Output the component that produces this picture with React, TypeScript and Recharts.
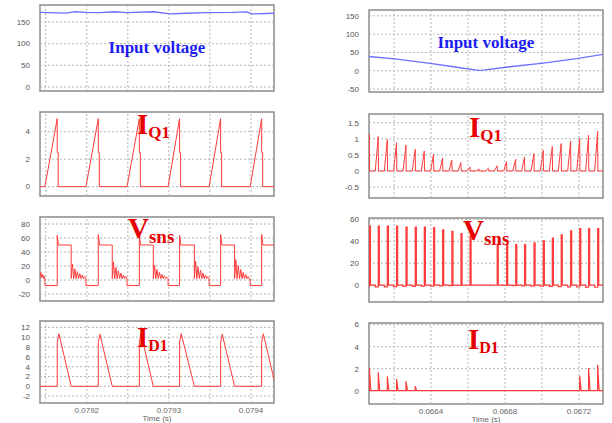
import React from "react";
import {
  LineChart,
  Line,
  XAxis,
  YAxis,
  ReferenceLine,
  ReferenceArea,
} from "recharts";

type Pt = { t: number; v: number };

// time is kept in microseconds, labels show seconds

// ---------- left column ----------
const leftTimeDomain: [number, number] = [79143, 79428];
const leftTimeGrid = [79150, 79200, 79250, 79300, 79350, 79400];
const leftTimeTicks = [79200, 79300, 79400];
const leftTimeLabels = ["0.0792", "0.0793", "0.0794"];

const leftVinTime = [79143, 79175, 79185, 79199, 79216, 79234, 79248, 79281, 79301, 79321, 79346, 79378, 79395, 79401, 79428];
const leftVin = [172, 170.5, 173.5, 172, 171.5, 173.5, 171.5, 173.5, 168.5, 170, 171.5, 172, 173, 168.5, 170];

const leftOn = [79149, 79199, 79249, 79299, 79349, 79399];
const leftOff = [79164, 79214, 79264, 79313, 79363, 79413];
const leftIq1Peak = [4.95, 4.95, 4.95, 4.95, 4.95, 4.95];
const leftId1Peak = [10.7, 10.6, 10.7, 10.7, 10.6, 10.7];
const leftId1Zero = [79181, 79231, 79281, 79331, 79380, 79430];
const leftVsnsSpike = [64, 65, 64, 64, 65, 65];
const leftVsnsFlat = [50, 50, 50, 50, 50, 50];
const leftVsnsLow = [-8, -8, -8, -8, -8, -8];
const leftVsnsRing = [
  [23, 16, 12, 9, 7, 5],
  [26, 18, 13, 10, 7, 5],
  [21, 15, 11, 8, 6, 4],
  [27, 19, 14, 10, 7, 5],
  [29, 21, 15, 11, 8, 5],
];
const leftVsnsHeadTime = [79143, 79144, 79145, 79146.5, 79147.5, 79148.5];
const leftVsnsHead = [4, 11, 3, 8, 2, 5];

// ---------- right column ----------
const rightTimeDomain: [number, number] = [66065, 67330];
const rightTimeGrid = [66200, 66400, 66600, 66800, 67000, 67200];
const rightTimeTicks = [66400, 66800, 67200];
const rightTimeLabels = ["0.0664", "0.0668", "0.0672"];

const rightVinTime = [66065, 66215, 66395, 66521, 66656, 66683, 66827, 67007, 67188, 67330];
const rightVin = [39, 32, 20, 11, 1, 2, 11, 21, 33, 45];

const rightOff = [
  66067, 66115, 66164, 66214, 66265, 66315, 66364, 66414, 66463, 66513, 66562, 66611, 66660,
  66710, 66758, 66809, 66858, 66906, 66957, 67007, 67056, 67104, 67155, 67204, 67252, 67301,
];
const rightIq1Peak = [
  1.15, 1.07, 0.98, 0.88, 0.8, 0.67, 0.62, 0.52, 0.4, 0.33, 0.26, 0.12, 0.06,
  0.08, 0.16, 0.29, 0.36, 0.43, 0.54, 0.64, 0.76, 0.85, 0.93, 1.01, 1.11, 1.23,
];
const rightVsnsPulse: (number | null)[] = [
  54, 54, 54, 54, 53, 53, 53, 52.5, 50.5, 49, 47, 45, null,
  null, 37.5, 37.5, 37, 37, 38.5, 40.5, 43, 46, 49.5, 51.5, 51.5, 51.5,
];
const rightVsnsDip = [
  -1.8, -1.7, -1.6, -1.5, -1.3, -1.2, -1.0, -0.9, -0.7, -0.5, -0.4, -0.2, 0,
  0, -0.2, -0.4, -0.6, -0.8, -1.0, -1.1, -1.3, -1.5, -1.6, -1.8, -1.9, -2.0,
];
const rightId1Peak = [
  2.06, 1.67, 1.3, 1.06, 0.85, 0.4, 0, 0, 0, 0, 0, 0, 0,
  0, 0, 0, 0, 0, 0, 0, 0, 0, 0, 1.36, 2.06, 2.36,
];

// ---------- build the polylines ----------
const zip = (ts: number[], vs: number[]): Pt[] => ts.map((t, i) => ({ t, v: vs[i] }));

const leftVinData = zip(leftVinTime, leftVin);
const rightVinData = zip(rightVinTime, rightVin);

const leftIq1Data: Pt[] = [{ t: leftTimeDomain[0], v: 0 }];
leftOn.forEach((on, i) => {
  const off = leftOff[i];
  const p = leftIq1Peak[i];
  leftIq1Data.push(
    { t: on, v: 0 },
    { t: off, v: p },
    { t: off, v: p / 2 },
    { t: off + 1.2, v: p / 2 },
    { t: off + 1.2, v: 0 }
  );
});
leftIq1Data.push({ t: leftTimeDomain[1], v: 0 });

const leftId1Data: Pt[] = [{ t: leftTimeDomain[0], v: 0 }];
leftOff.forEach((off, i) => {
  leftId1Data.push(
    { t: off, v: 0 },
    { t: off, v: leftId1Peak[i] - 1.7 },
    { t: off + 2, v: leftId1Peak[i] },
    { t: leftId1Zero[i], v: 0 }
  );
});

const leftVsnsData: Pt[] = zip(leftVsnsHeadTime, leftVsnsHead);
leftOn.forEach((on, i) => {
  const off = leftOff[i];
  const z = leftId1Zero[i];
  leftVsnsData.push(
    { t: on, v: 2 },
    { t: on, v: leftVsnsLow[i] },
    { t: off, v: leftVsnsLow[i] },
    { t: off, v: leftVsnsSpike[i] },
    { t: off + 1.5, v: leftVsnsFlat[i] },
    { t: z, v: leftVsnsFlat[i] },
    { t: z, v: 2 }
  );
  (leftVsnsRing[i] || []).forEach((r, j) => {
    leftVsnsData.push({ t: z + 1.5 + 3 * j, v: r }, { t: z + 3 + 3 * j, v: 2 });
  });
});

const rightIq1Data: Pt[] = [];
rightOff.forEach((off, i) => {
  const p = rightIq1Peak[i];
  rightIq1Data.push(
    { t: off - 16, v: 0 },
    { t: off, v: p },
    { t: off, v: p / 2 },
    { t: off + 1, v: p / 2 },
    { t: off + 1, v: 0 }
  );
});
rightIq1Data.push({ t: rightTimeDomain[1], v: 0 });

const rightVsnsData: Pt[] = [];
rightOff.forEach((off, i) => {
  const d = rightVsnsDip[i];
  const h = rightVsnsPulse[i];
  rightVsnsData.push({ t: off - 16, v: 0 }, { t: off - 16, v: d }, { t: off, v: d });
  if (h !== null) {
    rightVsnsData.push({ t: off, v: h }, { t: off + 6, v: h }, { t: off + 6, v: 0 });
  } else {
    rightVsnsData.push({ t: off, v: 0 });
  }
});
rightVsnsData.push({ t: rightTimeDomain[1], v: 0 });

const rightId1Data: Pt[] = [{ t: rightTimeDomain[0] - 5, v: 0 }];
rightOff.forEach((off, i) => {
  const p = rightId1Peak[i];
  if (p > 0) rightId1Data.push({ t: off, v: 0 }, { t: off, v: p }, { t: off + 8, v: 0 });
});
rightId1Data.push({ t: rightTimeDomain[1], v: 0 });

// ---------- drawing ----------
const RED = "#ff3c3c";
const BLUE = "#6f6fff";
const GRID = "#b4b4b4";
const FRAME = "#8c8c8c";

type PanelProps = {
  rect: [number, number, number, number];
  xDomain: [number, number];
  xGrid: number[];
  xTicks?: number[];
  xLabels?: string[];
  yDomain: [number, number];
  yTicks: number[];
  data: Pt[];
  color: string;
  width?: number;
};

function Panel({ rect, xDomain, xGrid, xTicks, xLabels, yDomain, yTicks, data, color, width = 1 }: PanelProps) {
  const [x0, y0, x1, y1] = rect;
  const showTime = !!xTicks;
  const axisH = showTime ? 18 : 0;
  return (
    <div style={{ position: "absolute", left: x0 - 40, top: y0 - 5 }}>
      <LineChart
        width={x1 - x0 + 45}
        height={y1 - y0 + 10 + axisH}
        margin={{ top: 5, right: 5, bottom: 5, left: 0 }}
      >
        <XAxis
          type="number"
          dataKey="t"
          domain={xDomain}
          allowDataOverflow
          ticks={xTicks}
          hide={!showTime}
          height={axisH}
          interval={0}
          tickFormatter={(v) => (xLabels && xTicks ? xLabels[xTicks.indexOf(v)] ?? "" : "")}
          tickLine={false}
          axisLine={false}
          tickSize={2}
          tickMargin={2}
          tick={{ fontSize: 8, fill: "#666" }}
          label={
            showTime
              ? { value: "Time (s)", position: "insideBottom", offset: 0, fontSize: 8, fill: "#666" }
              : undefined
          }
        />
        <YAxis
          type="number"
          domain={yDomain}
          allowDataOverflow
          ticks={yTicks}
          interval={0}
          width={40}
          tickLine={false}
          axisLine={false}
          tickSize={8}
          tickMargin={2}
          tick={{ fontSize: 8, fill: "#555" }}
        />
        {xGrid.map((v) => (
          <ReferenceLine key={"gx" + v} x={v} stroke={GRID} strokeDasharray="2 2" />
        ))}
        {yTicks.map((v) => (
          <ReferenceLine key={"gy" + v} y={v} stroke={GRID} strokeDasharray="2 2" />
        ))}
        <Line
          data={data}
          dataKey="v"
          type="linear"
          stroke={color}
          strokeWidth={width}
          dot={false}
          isAnimationActive={false}
        />
        <ReferenceArea
          x1={xDomain[0]}
          x2={xDomain[1]}
          y1={yDomain[0]}
          y2={yDomain[1]}
          fill="none"
          stroke={FRAME}
          strokeWidth={1.5}
        />
      </LineChart>
    </div>
  );
}

const serif = '"Liberation Serif", "Times New Roman", serif';

function Title({ left, baseline, text }: { left: number; baseline: number; text: string }) {
  return (
    <div
      style={{
        position: "absolute",
        left,
        top: baseline - 14.2,
        fontFamily: serif,
        fontWeight: "bold",
        fontSize: 17,
        lineHeight: "17px",
        color: "#1c1cf0",
        whiteSpace: "nowrap",
        transform: "translateX(-50%)",
      }}
    >
      {text}
    </div>
  );
}

function Sym({ left, baseline, main, sub, shift = 4, subSize = 17 }: { left: number; baseline: number; main: string; sub: string; shift?: number; subSize?: number }) {
  return (
    <div
      style={{
        position: "absolute",
        left,
        top: baseline - 24.3,
        fontFamily: serif,
        fontWeight: "bold",
        fontSize: 29,
        lineHeight: "29px",
        color: "#e60000",
        whiteSpace: "nowrap",
      }}
    >
      {main}
      <span style={{ fontSize: subSize, lineHeight: "1", verticalAlign: -shift }}>{sub}</span>
    </div>
  );
}

export default function App() {
  return (
    <div
      style={{
        position: "absolute",
        left: 0,
        top: 0,
        width: 612,
        height: 423,
        background: "#fff",
        fontFamily: '"Liberation Sans", Arial, sans-serif',
        overflow: "hidden",
      }}
    >
      <Panel rect={[40, 5, 274, 91]} xDomain={leftTimeDomain} xGrid={leftTimeGrid} yDomain={[-9, 189]} yTicks={[0, 50, 100, 150]} data={leftVinData} color={BLUE} width={1.3} />
      <Panel rect={[40, 112, 274, 196]} xDomain={leftTimeDomain} xGrid={leftTimeGrid} yDomain={[-0.68, 5.43]} yTicks={[0, 2, 4]} data={leftIq1Data} color={RED} />
      <Panel rect={[40, 217, 274, 301]} xDomain={leftTimeDomain} xGrid={leftTimeGrid} yDomain={[-30, 90]} yTicks={[-20, 0, 20, 40, 60, 80]} data={leftVsnsData} color={RED} />
      <Panel rect={[40, 321, 274, 403]} xDomain={leftTimeDomain} xGrid={leftTimeGrid} xTicks={leftTimeTicks} xLabels={leftTimeLabels} yDomain={[-3.4, 13.3]} yTicks={[-2, 0, 2, 4, 6, 8, 10, 12]} data={leftId1Data} color={RED} />

      <Panel rect={[369, 10, 603, 92]} xDomain={rightTimeDomain} xGrid={rightTimeGrid} yDomain={[-58, 166]} yTicks={[-50, 0, 50, 100, 150]} data={rightVinData} color={BLUE} width={1.3} />
      <Panel rect={[369, 114, 603, 198]} xDomain={rightTimeDomain} xGrid={rightTimeGrid} yDomain={[-0.84, 1.77]} yTicks={[-0.5, 0, 0.5, 1, 1.5]} data={rightIq1Data} color={RED} />
      <Panel rect={[369, 218, 603, 302]} xDomain={rightTimeDomain} xGrid={rightTimeGrid} yDomain={[-15.5, 61.3]} yTicks={[0, 20, 40, 60]} data={rightVsnsData} color={RED} width={1.2} />
      <Panel rect={[369, 323, 603, 404]} xDomain={rightTimeDomain} xGrid={rightTimeGrid} xTicks={rightTimeTicks} xLabels={rightTimeLabels} yDomain={[-1.21, 6.15]} yTicks={[0, 2, 4, 6]} data={rightId1Data} color={RED} width={1.2} />

      <Title left={157} baseline={53} text="Input voltage" />
      <Title left={486} baseline={48} text="Input voltage" />
      <Sym left={137} baseline={134.5} main="I" sub="Q1" />
      <Sym left={469} baseline={137} main="I" sub="Q1" />
      <Sym left={128} baseline={238} main="V" sub="sns" shift={5} subSize={19} />
      <Sym left={463} baseline={240} main="V" sub="sns" shift={5} subSize={19} />
      <Sym left={137} baseline={347} main="I" sub="D1" subSize={16} />
      <Sym left={468} baseline={349} main="I" sub="D1" subSize={16} />
    </div>
  );
}
